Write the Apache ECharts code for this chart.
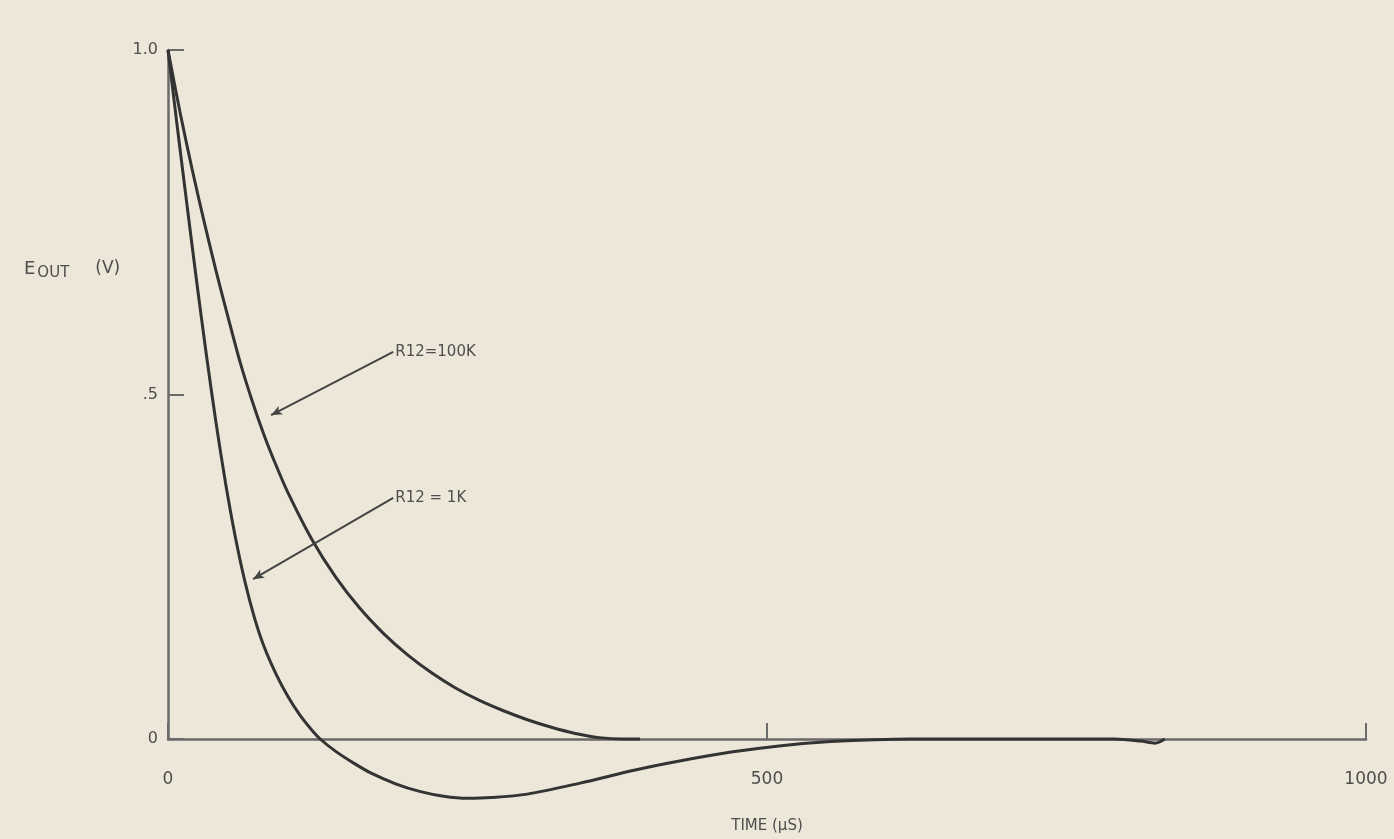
<!DOCTYPE html>
<html>
<head>
<meta charset="utf-8">
<script src="https://cdn.jsdelivr.net/npm/echarts@6/dist/echarts.min.js"></script>
<style>
  html, body { margin: 0; padding: 0; background: #ece7d8; }
  #chart { width: 1394px; height: 839px; }
</style>
</head>
<body>
<div id="chart"></div>
<script>
// Time axis (µS) and output voltage readings
const time100k = [0, 10, 20, 30, 40, 50, 60, 70, 80, 90, 100, 120, 140, 160, 180, 200, 220, 240, 260, 280, 300, 320, 340, 360, 380, 394];
const eout100k = [1.0, 0.91, 0.828, 0.752, 0.68, 0.613, 0.548, 0.492, 0.442, 0.398, 0.358, 0.29, 0.235, 0.19, 0.153, 0.122, 0.096, 0.074, 0.056, 0.041, 0.028, 0.017, 0.008, 0.002, 0.0, 0.0];

const time1k = [0, 8, 16, 24, 32, 40, 48, 56, 64, 72, 80, 90, 100, 110, 120, 127, 140, 155, 170, 190, 210, 230, 250, 270, 300, 344, 390, 427, 470, 510, 550, 590, 620, 700, 790, 812, 824, 832];
const eout1k = [1.0, 0.885, 0.773, 0.663, 0.558, 0.46, 0.372, 0.295, 0.23, 0.177, 0.135, 0.095, 0.062, 0.035, 0.013, 0.0, -0.018, -0.035, -0.050, -0.065, -0.076, -0.083, -0.086, -0.085, -0.080, -0.064, -0.045, -0.032, -0.019, -0.010, -0.004, -0.001, 0.0, 0.0, 0.0, -0.003, -0.006, 0.0];

const xTicks = [0, 500, 1000];
const yTickLabels = { 0: '0', 0.5: '.5', 1: '1.0' };

// annotation anchors: [label point, arrow tip]
const label100k = 'R12=100K';
const arrow100k = [[188, 0.562], [86, 0.47]];
const label1k = 'R12 = 1K';
const arrow1k = [[188, 0.350], [71, 0.232]];

const ink = '#333';
const axisInk = '#6a6a6a';
const textInk = '#4e4e4e';
const font = 'DejaVu Sans';

const chart = echarts.init(document.getElementById('chart'));

function annot(label, pts) {
  return {
    markLine: {
      silent: true,
      symbol: ['none', 'arrow'],
      symbolSize: [7, 11],
      lineStyle: { color: '#444', width: 2, type: 'solid' },
      label: { show: false },
      data: [[{ coord: pts[0] }, { coord: pts[1] }]],
      animation: false
    },
    markPoint: {
      silent: true,
      symbol: 'circle',
      symbolSize: 0,
      data: [{ coord: pts[0] }],
      label: {
        show: true, position: 'right', distance: 2,
        formatter: label, color: textInk, fontFamily: font, fontSize: 15
      },
      animation: false
    }
  };
}

chart.setOption({
  backgroundColor: '#ece7d8',
  animation: false,
  grid: { left: 168, right: 28, top: 50, bottom: 92 },
  xAxis: {
    type: 'value', min: 0, max: 1000, interval: 500,
    name: 'TIME (\u03bcS)', nameLocation: 'middle', nameGap: 80,
    nameTextStyle: { color: textInk, fontFamily: font, fontSize: 15 },
    axisLine: { show: true, lineStyle: { color: axisInk, width: 2.5 } },
    axisTick: { show: true, inside: true, length: 16, lineStyle: { color: axisInk, width: 2 } },
    axisLabel: { color: textInk, fontFamily: font, fontSize: 17, margin: 32,
      formatter: v => xTicks.includes(v) ? String(v) : '' },
    splitLine: { show: false }
  },
  yAxis: {
    type: 'value', min: 0, max: 1, interval: 0.5,
    axisLine: { show: true, lineStyle: { color: axisInk, width: 2.5 } },
    axisTick: { show: true, inside: true, length: 16, lineStyle: { color: axisInk, width: 2 } },
    axisLabel: { color: textInk, fontFamily: font, fontSize: 16, margin: 10,
      formatter: v => yTickLabels[v] !== undefined ? yTickLabels[v] : '' },
    splitLine: { show: false }
  },
  graphic: [{
    type: 'text', left: 24, top: 260,
    style: {
      text: '{a|E}{b|OUT}{c|(V)}',
      rich: {
        a: { fontFamily: font, fontSize: 18, fill: textInk, color: textInk },
        b: { fontFamily: font, fontSize: 15, fill: textInk, color: textInk, padding: [9, 0, 0, 2] },
        c: { fontFamily: font, fontSize: 17, fill: textInk, color: textInk, padding: [0, 0, 0, 26] }
      }
    }
  }],
  series: [
    Object.assign({
      type: 'line', name: '100K', clip: false, smooth: 0.3, symbol: 'none',
      lineStyle: { color: ink, width: 3 },
      data: time100k.map((t, i) => [t, eout100k[i]])
    }, annot(label100k, arrow100k)),
    Object.assign({
      type: 'line', name: '1K', clip: false, smooth: 0.3, symbol: 'none',
      lineStyle: { color: ink, width: 3 },
      data: time1k.map((t, i) => [t, eout1k[i]])
    }, annot(label1k, arrow1k))
  ]
});
</script>
</body>
</html>
